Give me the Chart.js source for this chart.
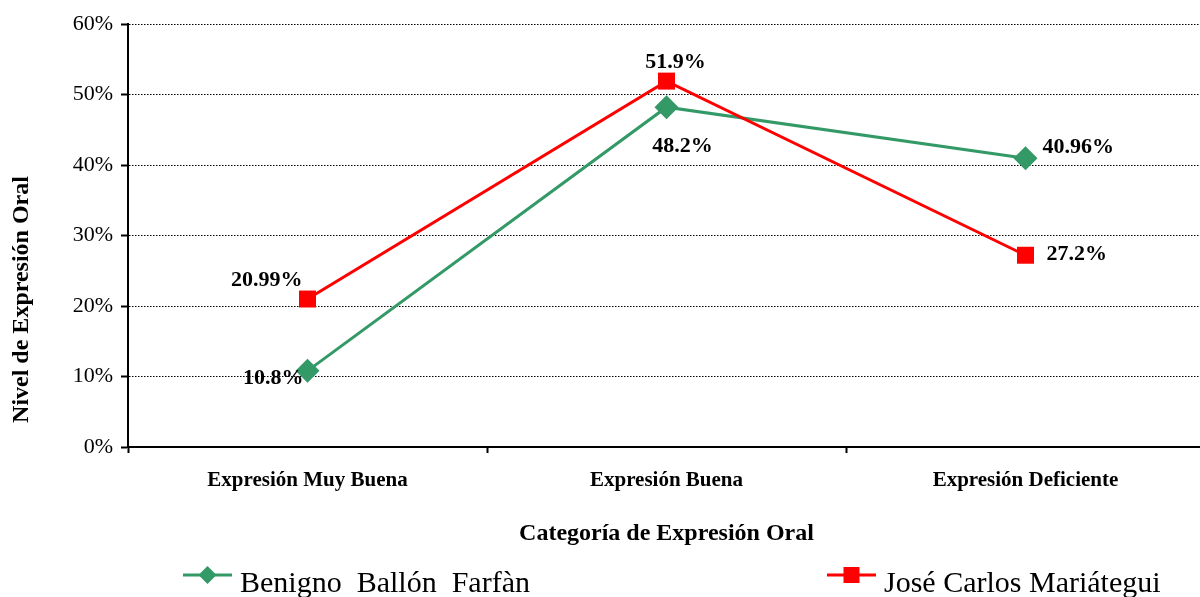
<!DOCTYPE html>
<html><head><meta charset="utf-8">
<script src="https://cdn.jsdelivr.net/npm/chart.js@4/dist/chart.umd.min.js"></script>
<style>html,body{margin:0;padding:0;overflow:hidden;background:#fff}#wrap{width:1217px;height:597px}</style>
</head><body><div id="wrap"><canvas id="c" width="1217" height="597"></canvas></div>
<script>
// ---- data ----
const categories = ['Expresión Muy Buena', 'Expresión Buena', 'Expresión Deficiente'];
const seriesNames = ['Benigno  Ballón  Farfàn', 'José Carlos Mariátegui'];
const benignoValues = [10.8, 48.2, 40.96];
const joseValues = [20.99, 51.9, 27.2];
const benignoLabels = ['10.8%', '48.2%', '40.96%'];
const joseLabels = ['20.99%', '51.9%', '27.2%'];
const yTicks = [0, 10, 20, 30, 40, 50, 60];
const xTitle = 'Categoría de Expresión Oral';
const yTitle = 'Nivel de Expresión Oral';

// ---- styles ----
const FONT = '"Liberation Serif", "Times New Roman", serif';
const GREEN = '#339966';
const RED = '#FF0000';
const valueLabels = [benignoLabels, joseLabels];
const LABEL_PLACE = [
  [{align: 'right', dx: -4, dy: 7}, {align: 'center', dx: 16, dy: 39}, {align: 'left', dx: 17, dy: -11}],
  [{align: 'right', dx: -5, dy: -19}, {align: 'center', dx: 9, dy: -19}, {align: 'left', dx: 21, dy: -1}]
];
const LEGEND = {lineY: 575, baseY: 592, starts: [183, 827], lineLen: 49, gap: 8};

function drawMarker(ctx, style, x, y, color) {
  ctx.save();
  ctx.fillStyle = color;
  ctx.beginPath();
  if (style === 'rectRot') {
    const r = 9;
    ctx.moveTo(x, y - r); ctx.lineTo(x + r, y); ctx.lineTo(x, y + r); ctx.lineTo(x - r, y);
  } else {
    const h = 8;
    ctx.rect(x - h, y - h, 2 * h, 2 * h);
  }
  ctx.closePath();
  ctx.fill();
  ctx.restore();
}

const extras = {
  id: 'extras',
  afterDatasetsDraw(chart) {
    const ctx = chart.ctx;
    ctx.save();
    ctx.fillStyle = '#000';
    ctx.font = 'bold 22px ' + FONT;
    ctx.textBaseline = 'middle';
    chart.data.datasets.forEach((ds, di) => {
      const meta = chart.getDatasetMeta(di);
      meta.data.forEach((pt, i) => {
        const p = LABEL_PLACE[di][i];
        ctx.textAlign = p.align;
        ctx.fillText(valueLabels[di][i], pt.x + p.dx, pt.y + p.dy);
      });
    });
    ctx.restore();
  },
  afterDraw(chart) {
    const ctx = chart.ctx;
    // y title
    ctx.save();
    ctx.translate(22, (chart.chartArea.top + LEGEND.lineY) / 2);
    ctx.rotate(-Math.PI / 2);
    ctx.font = 'bold 24px ' + FONT;
    ctx.fillStyle = '#000';
    ctx.textAlign = 'center';
    ctx.textBaseline = 'middle';
    ctx.fillText(yTitle, 0, 0);
    ctx.restore();
    // legend
    chart.data.datasets.forEach((ds, di) => {
      const x = LEGEND.starts[di];
      ctx.save();
      ctx.strokeStyle = ds.borderColor;
      ctx.lineWidth = 3;
      ctx.beginPath();
      ctx.moveTo(x, LEGEND.lineY);
      ctx.lineTo(x + LEGEND.lineLen, LEGEND.lineY);
      ctx.stroke();
      ctx.restore();
      drawMarker(ctx, ds.pointStyle, x + LEGEND.lineLen / 2, LEGEND.lineY, ds.borderColor);
      ctx.save();
      ctx.font = '30px ' + FONT;
      ctx.fillStyle = '#000';
      ctx.textAlign = 'left';
      ctx.textBaseline = 'alphabetic';
      ctx.fillText(ds.label, x + LEGEND.lineLen + LEGEND.gap, LEGEND.baseY);
      ctx.restore();
    });
  }
};

new Chart(document.getElementById('c'), {
  type: 'line',
  data: {
    labels: categories,
    datasets: [
      {label: seriesNames[0], data: benignoValues, borderColor: GREEN, backgroundColor: GREEN,
       borderWidth: 3, pointStyle: 'rectRot', pointRadius: 12, pointHoverRadius: 12,
       pointBackgroundColor: GREEN, pointBorderColor: GREEN, pointBorderWidth: 0, order: 1, tension: 0},
      {label: seriesNames[1], data: joseValues, borderColor: RED, backgroundColor: RED,
       borderWidth: 3, pointStyle: 'rect', pointRadius: 12, pointHoverRadius: 12,
       pointBackgroundColor: RED, pointBorderColor: RED, pointBorderWidth: 0, order: 0, tension: 0}
    ]
  },
  options: {
    responsive: false,
    animation: false,
    layout: {padding: {top: 24, left: 0, right: 2, bottom: 45}},
    plugins: {legend: {display: false}, tooltip: {enabled: false}},
    scales: {
      x: {
        offset: true,
        grid: {display: true, offset: true, drawOnChartArea: false, drawTicks: true, tickLength: 6, color: '#000', tickWidth: 2},
        border: {display: true, color: '#000', width: 2},
        ticks: {color: '#000', font: {family: FONT, size: 21, weight: 'bold'}, padding: 15, maxRotation: 0, autoSkip: false},
        title: {display: true, text: xTitle, color: '#000', font: {family: FONT, size: 24, weight: 'bold'}, padding: {top: 0, bottom: 4}},
        afterFit(s) { s.height = 105; }
      },
      y: {
        min: 0, max: 60,
        afterBuildTicks(s) { s.ticks = yTicks.map(v => ({value: v})); },
        grid: {color: '#000', lineWidth: 1, drawTicks: true, tickLength: 7, tickWidth: 2},
        border: {display: true, color: '#000', width: 2, dash: [1.5, 1.5]},
        ticks: {color: '#000', font: {family: FONT, size: 22}, padding: 8, callback: v => v + '%'},
        afterFit(s) { s.width = 128; }
      }
    }
  },
  plugins: [extras]
});
</script>
</body></html>
